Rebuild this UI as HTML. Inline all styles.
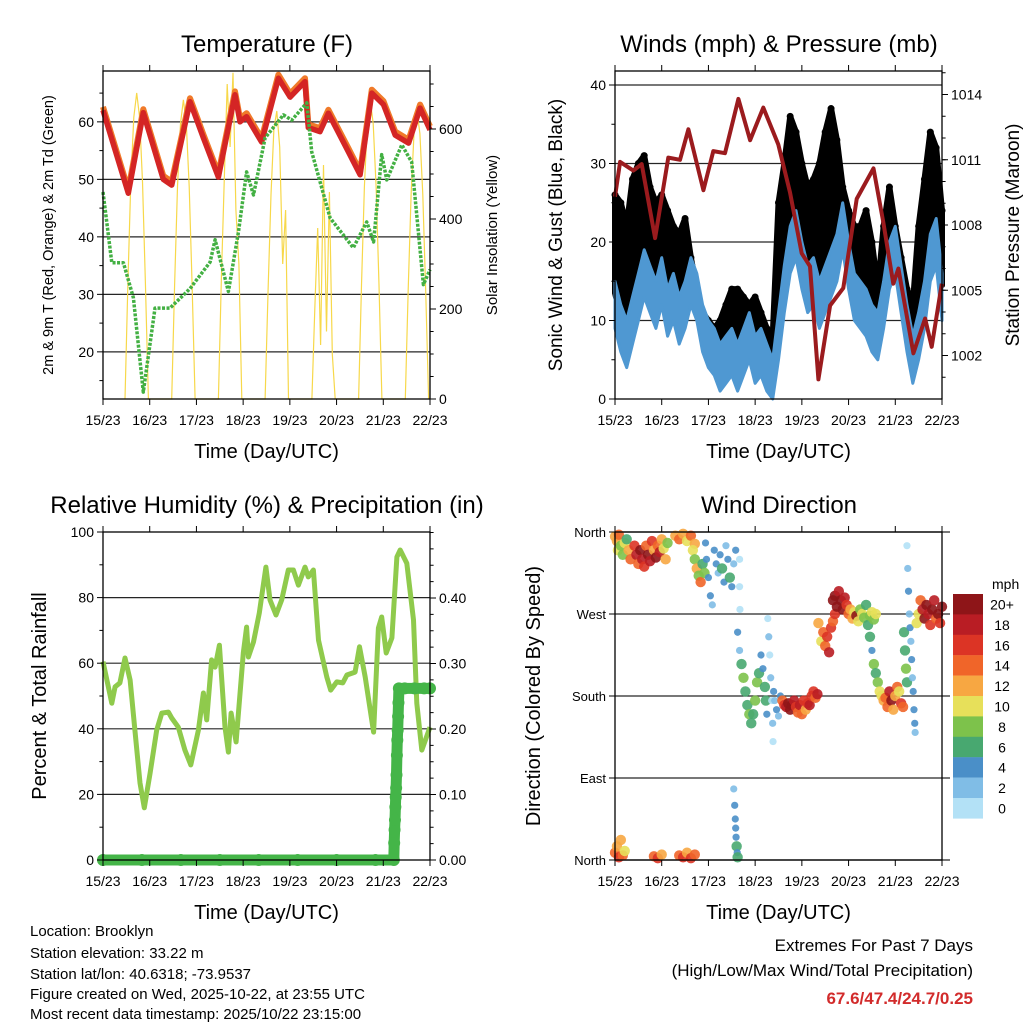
<!DOCTYPE html>
<html><head><meta charset="utf-8"><title>Weather station</title>
<style>
html,body{margin:0;padding:0;background:#fff;}
svg{display:block;font-family:"Liberation Sans",Arial,sans-serif;}
</style></head>
<body>
<svg id="chart" width="1024" height="1024" viewBox="0 0 1024 1024" xmlns="http://www.w3.org/2000/svg">
<rect width="1024" height="1024" fill="#fff"/>
<g id="g1"></g>
<g id="g2"></g>
<g id="g3"></g>
<g id="g4"></g>
<g font-size="15" fill="#000">
<text x="30" y="936">Location: Brooklyn</text>
<text x="30" y="958">Station elevation: 33.22 m</text>
<text x="30" y="979">Station lat/lon: 40.6318; -73.9537</text>
<text x="30" y="999">Figure created on Wed, 2025-10-22, at 23:55 UTC</text>
<text x="30" y="1019">Most recent data timestamp: 2025/10/22 23:15:00</text>
</g>
<g text-anchor="end">
<text x="973" y="951" font-size="17">Extremes For Past 7 Days</text>
<text x="973" y="976" font-size="17">(High/Low/Max Wind/Total Precipitation)</text>
<text x="973" y="1004" font-size="17" font-weight="bold" fill="#d22b2b">67.6/47.4/24.7/0.25</text>
</g>
</svg>
<script>
// ---------- DATA ----------
const dayLabels = ["15/23","16/23","17/23","18/23","19/23","20/23","21/23","22/23"];
const tempHours = [0,13.0,20.7,31.0,35.3,44.7,51.6,59.3,67.8,70.4,73.8,81.5,90.1,96.1,103.8,105.5,111.5,115.8,126.1,132.1,138.1,144.1,150.1,157.0,162.9,168];
const tempVals  = [62,47.6,61.6,50,49,63.5,57.2,50.4,64.7,60,60.9,56.5,67.6,64.3,67,59,58.3,61.5,54.8,50.8,65,63,57.7,56.3,62.4,58.6];
const dewHours = [0,4.5,10.5,15.6,20.7,26.7,34.4,44.7,55,57.6,64.4,69.6,73.8,77.3,83.3,92.7,97,104.7,107.2,116.7,128.6,135.5,139,143.2,145.8,153.5,158.6,164.6,168];
const dewVals  = [47.8,35.5,35.5,29.4,13,27.6,27.6,31,35.6,39.5,30.5,40.9,51.3,47.3,57.2,61.2,60.3,63.3,54.8,43.3,38.1,42.6,39.1,54.3,49.9,56,53,31.7,34.3];
const solarHours = [11.3,12.8,14.3,15.8,17.3,18.8,20.3,21.8,23.3, 35.3,36.8,38.3,39.8,41.3,42.8,44.3,45.8,47.3, 59.3,60.8,62.3,63.8,65.3,66.8,68.3,69.8,71.3, 83.3,84.8,86.3,87.8,89.3,90.8,92.3,93.8,95.3, 107.3,108.8,110.3,111.8,113.3,114.8,116.3,117.8,119.3, 131.3,132.8,134.3,135.8,137.3,138.8,140.3,141.8,143.3, 155.3,156.8,158.3,159.8,161.3,162.8,164.3,165.8,167.3];
const solarVals  = [0,258,483,626,680,626,483,258,0, 0,253,472,612,665,612,472,253,0, 0,262,490,700,560,725,420,300,0, 0,243,454,600,640,560,300,420,0, 0,200,380,120,520,150,460,100,0, 0,253,472,612,665,612,472,253,0, 0,243,454,590,640,590,454,240,0];

const windHours = [0,3,6,9,12,15,18,21,24,27,30,33,36,39,42,45,48,51,54,57,60,63,66,69,72,75,78,81,84,87,90,93,96,99,102,105,108,111,114,117,120,123,126,129,132,135,138,141,144,147,150,153,156,159,162,165,168];
const windSpeed = [12,9,7,10,13,16,14,12,15,11,13,10,12,15,13,9,7,6,4,5,6,4,6,8,5,6,4,2,8,14,19,21,17,14,15,12,14,16,18,22,17,13,12,11,9,8,12,17,19,14,9,5,8,12,18,20,13];
const gustHigh  = [26,25,22,28,30,31,27,25,26,24,22,21,23,18,14,11,10,9,10,12,14,14,13,12,13,11,9,8,25,30,36,34,30,27,28,30,34,37,33,27,24,22,22,24,20,14,22,27,22,18,14,12,22,28,34,32,24];
const presHours = [0,2.6,9.4,13.7,20.6,27.4,33.4,37.7,45.4,50.5,56.5,63.4,69.4,76.2,83.9,89.9,95.9,100.2,104.5,110.5,117.3,124.2,132.8,137.9,143.0,145.6,153.3,159.3,162.7,167.9];
const presVals  = [1009.3,1010.9,1010.5,1010.8,1007.4,1011.1,1011,1012.4,1009.6,1011.4,1011.3,1013.8,1011.9,1013.4,1011.7,1009.5,1006.7,1006.1,1000.9,1004.3,1005.1,1009.2,1010.6,1008.1,1005.3,1006,1002.1,1003.7,1002.4,1005.3];

const rhHours = [0,4.5,6.2,8.7,11.3,13.9,16.4,19,21.2,24.2,27.6,30.2,33.6,35.3,38.7,42.1,45.1,49,51.6,53.3,55.8,57.6,59.8,62.7,64.4,65.8,68.4,72.1,73.8,74.7,77.3,80.3,83.7,85.8,88.9,91.8,95.2,97.8,100.4,103.8,105.5,108.1,110.7,115,117,120.1,123.2,125.3,129.5,131.8,134.7,139,141.5,143.2,145.5,148.4,151,152.7,156.1,159.5,161.2,163.8,168];
const rhVals  = [60.5,47.8,52.8,54,61.6,54.9,39.6,23.5,15.9,26.5,39.6,44.8,45.1,43.3,40.5,33.5,29,39.6,50.9,42.7,61,58.8,65.5,40.5,32.9,44.8,36,63.1,71,61.9,66.5,75.3,89.3,79.3,74.7,79.3,88.4,88.4,83.8,89.3,86.3,88.4,67,55.8,51.8,54.3,54,56.4,57.3,65,55.8,39,70.7,74.1,63.1,67.7,92.4,94.5,90.5,73.2,47.8,33.5,40.5];
const rainHours = [0,20,40,60,80,100,120,140,149.4,149.6,149.8,150,150.2,150.4,150.6,150.8,151,151.2,151.4,151.6,151.8,152,155,160,165,168];
const rainVals  = [0,0,0,0,0,0,0,0,0,0.026,0.046,0.061,0.081,0.096,0.11,0.13,0.16,0.183,0.198,0.219,0.24,0.262,0.262,0.262,0.262,0.262];

const dirHours = [0,1,1.5,2,3,4,5,6,7,8, 10,11,12,13,14,15,16,17,18,19,20,21,22,23,24,25,26,27, 31,33,35,37,39,41, 40,41,42,43,44,45,46,
 46.5,47,48,49,50,51,52,53,54,55,56,57,58,59,60,61,62, 61,61.5,61.8,62,62.2,62.5,62.8,63, 64,64,64.2,
 63,64,65,66,67,68,69,70,71,72,73,74,75,76,77,77.5,78, 78.5,79,79.5,80,80.5,81,81.2, 81.5,82,83,84,85,
 86,87,88,89,90,91,92,93,94,95,96,97,98,99,100,101,102,103,104, 104.5,106,107,108,109,110,111,112,113,
 112,113,114,115,116,117,118,119,120,121,122,123,124, 125,126,127,128,129,130,131,132,133,134,
 131,132,133,134,135,136,137,138, 139,140,141,142,143,144,145,146,147,148, 148.5,149,149.5,150,
 150,150.4,150.8,151.2,151.6,152,152.4,152.8,153.2,153.6,154,154.2,
 155,156,157,158,159,160,161,162,163,164,165,166,167,168,
 0,1,2,3,4,5, 20,22,24, 33,35,37,39,41];
const dirVals = [355,350,340,357,345,335,348,352,340,330, 345,335,325,340,330,322,345,335,328,350,340,332,345,338,352,342,330,348, 356,352,358,350,356,347, 340,330,320,312,305,325,315,
 348,330,310,290,280,340,325,315,335,320,305,345,330,310,300,325,340, 78,60,45,35,25,15,8,3, 330,300,275,
 250,230,215,200,185,170,160,150,160,175,195,205,225,210,190,175,160, 265,245,225,200,175,150,130, 185,175,165,158,180,
 175,170,168,172,165,170,175,168,162,170,160,175,165,172,170,180,185,178,182, 260,240,250,235,245,228,255,262,270,
 285,290,278,295,285,275,288,280,270,275,265,272,268, 262,275,270,266,280,258,268,272,264,270,
 245,230,215,205,195,185,180,175, 178,168,185,175,165,180,190,185,172,168, 250,230,210,195,
 345,320,295,270,255,240,220,200,185,165,150,140,
 260,270,285,275,265,280,270,258,275,285,265,270,260,278,
 8,15,3,22,5,10, 4,2,6, 5,3,8,2,6];
const dirSpeeds = [13,12,10,14,9,8,11,7,12,14, 16,18,15,20,19,17,14,20,18,16,12,20,15,18,13,10,12,9, 12,14,13,11,15,12, 10,8,12,9,14,7,8,
 5,4,5,4,3,4,5,3,4,6,5,3,4,6,4,2,5, 3,4,4,5,4,6,5,6, 1,1,1,
 4,3,6,8,7,6,8,6,7,9,8,6,5,4,7,6,5, 1,2,1,2,1,2,1, 4,3,4,3,5,
 14,17,19,20,21,20,18,16,14,18,15,16,13,17,18,16,17,15,19, 13,11,15,14,16,18,17,14,16,
 20,21,20,19,22,20,18,16,14,12,13,11,20, 10,9,11,8,7,6,8,10,9,11,
 6,5,8,7,9,10,11,12, 15,14,19,20,13,12,14,10,17,15, 7,6,8,7,
 1,2,4,3,4,3,4,3,4,5,4,3,
 11,10,14,18,20,21,19,16,20,18,15,20,17,21,
 14,12,16,13,15,11, 14,16,12, 15,17,13,16,14];
const speedColors = ["#b3e1f6","#80bde6","#4a8fc8","#48a870","#7dc24b","#e7e05a","#f7a742","#f06529","#dc3425","#b91d24","#8e1518"];
const colorbarLabels = ["20+","18","16","14","12","10","8","6","4","2","0"];

// ---------- HELPERS ----------
const NS="http://www.w3.org/2000/svg";
function mk(parent,tag,attrs,txt){const e=document.createElementNS(NS,tag);for(const k in attrs)e.setAttribute(k,attrs[k]);if(txt!==undefined)e.textContent=txt;parent.appendChild(e);return e;}
function panel(x0,x1,y0,y1){return {x0,x1,y0,y1,x:h=>x0+(h/168)*(x1-x0)};}
function pts(xs,ys,fx,fy){return xs.map((h,i)=>fx(h).toFixed(1)+","+fy(ys[i]).toFixed(1)).join(" ");}

function frame(g,P,title,titleX){
  const t=mk(g,"text",{x:titleX,y:P.y0-19,"font-size":24,"text-anchor":"middle"},title);
  
  
  dayLabels.forEach((lab,i)=>{
    const x=P.x(i*24);
    const tk=mk(g,"line",{x1:x,x2:x,y1:P.y1,y2:P.y1+6,stroke:"#000","stroke-width":1});
    
    
    const tt=mk(g,"line",{x1:x,x2:x,y1:P.y0,y2:P.y0-6,stroke:"#000","stroke-width":1});
    
    
    const tl=mk(g,"text",{x:x,y:P.y1+26,"font-size":14,"text-anchor":"middle"},lab);
    
    
  });
  const xl=mk(g,"text",{x:(P.x0+P.x1)/2,y:P.y1+59,"font-size":20,"text-anchor":"middle"},"Time (Day/UTC)");
  
  
}
function border(g,P){
  const b=mk(g,"rect",{x:P.x0,y:P.y0,width:P.x1-P.x0,height:P.y1-P.y0,fill:"none",stroke:"#000","stroke-width":1.3});
  
  
}
function grid(g,P,y,x2){
  const l=mk(g,"line",{x1:P.x0,x2:x2||P.x1,y1:y,y2:y,stroke:"#000","stroke-width":1.2,opacity:0.85});
  
  
}
function yTicks(g,P,side,vals,fy,labFn,minorVals){
  const x=side==="left"?P.x0:P.x1, d=side==="left"?-6:6;
  (minorVals||[]).forEach(v=>{const y=fy(v);const m=mk(g,"line",{x1:x,x2:x+d*0.6,y1:y,y2:y,stroke:"#000","stroke-width":1});
    
    });
  vals.forEach(v=>{const y=fy(v);
    const t=mk(g,"line",{x1:x,x2:x+d,y1:y,y2:y,stroke:"#000","stroke-width":1});
    
    
    const l=mk(g,"text",{x:x+(side==="left"?-9:9),y:y+5,"font-size":14,"text-anchor":side==="left"?"end":"start"},labFn(v));
    
    });
}
function vlabel(g,x,y,txt,size){
  const t=mk(g,"text",{x:0,y:0,"font-size":size,"text-anchor":"middle",transform:`translate(${x},${y}) rotate(-90)`},txt);
  
  
}
function range(a,b,s){const r=[];for(let v=a;v<=b+1e-9;v+=s)r.push(+v.toFixed(4));return r;}

// ---------- PANEL 1: Temperature ----------
(function(){
  const g=document.getElementById("g1");
  const P=panel(103,430,71,399);
  const tY=t=>399-(t-11.8)*5.75, sY=w=>399-w*0.45;
  [20,30,40,50,60].forEach(v=>grid(g,P,tY(v)));
  const s=mk(g,"polyline",{points:pts(solarHours,solarVals,P.x,sY),fill:"none",stroke:"#f7d84a","stroke-width":1.2});
  
  
  const o=mk(g,"polyline",{points:pts(tempHours,tempVals.map(v=>v+0.6),P.x,tY),fill:"none",stroke:"#f07a2a","stroke-width":6,"stroke-linejoin":"round"});
  
  
  const r=mk(g,"polyline",{points:pts(tempHours,tempVals,P.x,tY),fill:"none",stroke:"#d42525","stroke-width":5.5,"stroke-linejoin":"round"});
  
  
  const d=mk(g,"polyline",{points:pts(dewHours,dewVals,P.x,tY),fill:"none",stroke:"#43b043","stroke-width":3.5,"stroke-dasharray":"3 1.5","stroke-linejoin":"round"});
  
  
  border(g,P);
  yTicks(g,P,"left",[20,30,40,50,60],tY,v=>v,[15,25,35,45,55,65]);
  yTicks(g,P,"right",[0,200,400,600],sY,v=>v,range(50,700,50));
  frame(g,P,"Temperature (F)",267);
  vlabel(g,53,235,"2m & 9m T (Red, Orange) & 2m Td (Green)",14.5);
  vlabel(g,497,235,"Solar Insolation (Yellow)",15);
})();

// ---------- PANEL 2: Winds ----------
(function(){
  const g=document.getElementById("g2");
  const P=panel(615,942,71,399);
  const wY=v=>399-v*7.85, pY=p=>399-(p-1000)*21.75;
  [10,20,30,40].forEach(v=>grid(g,P,wY(v)));
  const lowPts=windHours.map((h,i)=>P.x(h).toFixed(1)+","+wY(windSpeed[i]+1.5).toFixed(1));
  const hiPts=windHours.map((h,i)=>P.x(h).toFixed(1)+","+wY(gustHigh[i]).toFixed(1)).reverse();
  const band=mk(g,"polygon",{points:lowPts.concat(hiPts).join(" "),fill:"#000","stroke":"#000","stroke-width":6,"stroke-linejoin":"round"});
  
  
  windHours.forEach((h,i)=>{
    const c=mk(g,"circle",{cx:P.x(h),cy:wY(gustHigh[i]),r:3.5,fill:"#000"});
    
    
  });
  const bl=windHours.map((h,i)=>P.x(h).toFixed(1)+","+wY(Math.max(0,windSpeed[i]-3)).toFixed(1));
  const bh=windHours.map((h,i)=>P.x(h).toFixed(1)+","+wY(windSpeed[i]+3).toFixed(1)).reverse();
  const wb=mk(g,"polygon",{points:bl.concat(bh).join(" "),fill:"#4f98d2",stroke:"#4f98d2","stroke-width":3,"stroke-linejoin":"round"});
  
  
  const pr=mk(g,"polyline",{points:pts(presHours,presVals,P.x,pY),fill:"none",stroke:"#9b1b1e","stroke-width":4,"stroke-linejoin":"round"});
  
  
  border(g,P);
  yTicks(g,P,"left",[0,10,20,30,40],wY,v=>v,[5,15,25,35]);
  yTicks(g,P,"right",[1002,1005,1008,1011,1014],pY,v=>v,range(1001,1015,1));
  frame(g,P,"Winds (mph) & Pressure (mb)",779);
  vlabel(g,562,235,"Sonic Wind & Gust (Blue, Black)",19);
  vlabel(g,1019,235,"Station Pressure (Maroon)",19);
})();

// ---------- PANEL 3: Humidity ----------
(function(){
  const g=document.getElementById("g3");
  const P=panel(103,430,532,860);
  const rY=v=>860-v*3.28, pY=v=>860-v*655;
  [20,40,60,80].forEach(v=>grid(g,P,rY(v)));
  const l=mk(g,"polyline",{points:pts(rhHours,rhVals,P.x,rY),fill:"none",stroke:"#8fca4c","stroke-width":5,"stroke-linejoin":"round"});
  
  
  const rl=mk(g,"polyline",{points:pts(rainHours,rainVals,P.x,pY),fill:"none",stroke:"#44b548","stroke-width":11,"stroke-linejoin":"round"});
  
  
  rainHours.forEach((h,i)=>{
    const c=mk(g,"circle",{cx:P.x(h),cy:pY(rainVals[i]),r:6,fill:"#44b548"});
    
    
  });
  border(g,P);
  yTicks(g,P,"left",[0,20,40,60,80,100],rY,v=>v,range(10,90,20));
  yTicks(g,P,"right",[0,0.1,0.2,0.3,0.4],pY,v=>v.toFixed(2),range(0.025,0.5,0.025));
  frame(g,P,"Relative Humidity (%) & Precipitation (in)",267);
  vlabel(g,46,696,"Percent & Total Rainfall",20);
})();

// ---------- PANEL 4: Wind Direction ----------
(function(){
  const g=document.getElementById("g4");
  const P=panel(615,942,532,860);
  const dY=v=>860-v*328/360;
  [360,270,180,90,0].forEach(v=>grid(g,P,dY(v),950));
  dirHours.forEach((h,i)=>{
    const k=Math.min(10,Math.floor(dirSpeeds[i]/2));
    const c=mk(g,"circle",{cx:P.x(h),cy:dY(dirVals[i]),r:k<=2?3.6:5.2,fill:speedColors[k],opacity:0.9});
    
    
  });
  border(g,P);
  const names=["North","West","South","East","North"];
  [360,270,180,90,0].forEach((v,i)=>{
    const y=dY(v);
    const t=mk(g,"line",{x1:P.x0,x2:P.x0-6,y1:y,y2:y,stroke:"#000"});
    
    
    const l=mk(g,"text",{x:P.x0-9,y:y+5,"font-size":13,"text-anchor":"end"},names[i]);
    
    
  });
  frame(g,P,"Wind Direction",779);
  vlabel(g,540,696,"Direction (Colored By Speed)",20);
  const cb=mk(g,"g",{});
  
  
  const u=mk(cb,"text",{x:992,y:589,"font-size":14},"mph");
  
  
  colorbarLabels.forEach((lab,i)=>{
    const y=594+i*20.4;
    const r=mk(cb,"rect",{x:953,y:y,width:30,height:20.6,fill:speedColors[10-i]});
    
    
    const t=mk(cb,"text",{x:1002,y:y+15.5,"font-size":14,"text-anchor":"middle"},lab);
    
    
  });
})();
</script>
</body></html>
